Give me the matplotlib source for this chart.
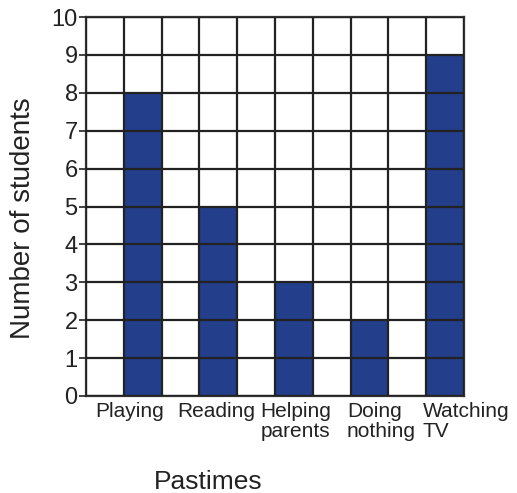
import matplotlib
matplotlib.use("Agg")
import matplotlib.pyplot as plt

# data
pastimes = ["Playing", "Reading", "Helping\nparents", "Doing\nnothing", "Watching\nTV"]
students = [8, 5, 3, 2, 9]
bar_slots = [1, 3, 5, 7, 9]   # grid column each bar sits in
y_ticks = list(range(0, 11))

plt.rcParams['font.family'] = ['Liberation Sans', 'DejaVu Sans']

fig = plt.figure(figsize=(5.17, 4.93), dpi=100)
ax = fig.add_axes([86 / 517, 1 - 396 / 493, 378 / 517, 379 / 493])

ax.bar(bar_slots, students, width=1, align='edge', color='#233e8b', zorder=1)

ax.set_xlim(0, 10)
ax.set_ylim(0, 10)
ax.set_xticks(range(0, 11))
ax.set_yticks(y_ticks)
ax.set_xticklabels([])
ax.set_yticklabels([str(t) for t in y_ticks], fontsize=17, color='#222222')
ax.tick_params(axis='x', length=0)
ax.tick_params(axis='y', length=5, width=1.2, pad=1, color='#222222')
ax.grid(True, color='#222222', linewidth=1.6, zorder=2)
ax.set_axisbelow(False)
for s in ax.spines.values():
    s.set_color('#333333')
    s.set_linewidth(1.6)

# category labels placed under their bars (offsets)
label_pos = [(1.16, 'center'), (3.45, 'center'), (5.55, 'center'), (6.9, 'left'), (8.9, 'left')]
for name, (x, ha) in zip(pastimes, label_pos):
    ax.text(x, -0.15, name, ha=ha, va='top', fontsize=15, color='#222222',
            linespacing=1.12, multialignment='center' if ha == 'center' else 'left')

fig.text(23 / 517, 1 - 218 / 493, "Number of students", rotation=90,
         ha='center', va='center', fontsize=20, color='#222222')
fig.text(208 / 517, 1 - 482 / 493, "Pastimes", ha='center', va='center',
         fontsize=19, color='#222222')

fig.savefig("out.png", dpi=100)
